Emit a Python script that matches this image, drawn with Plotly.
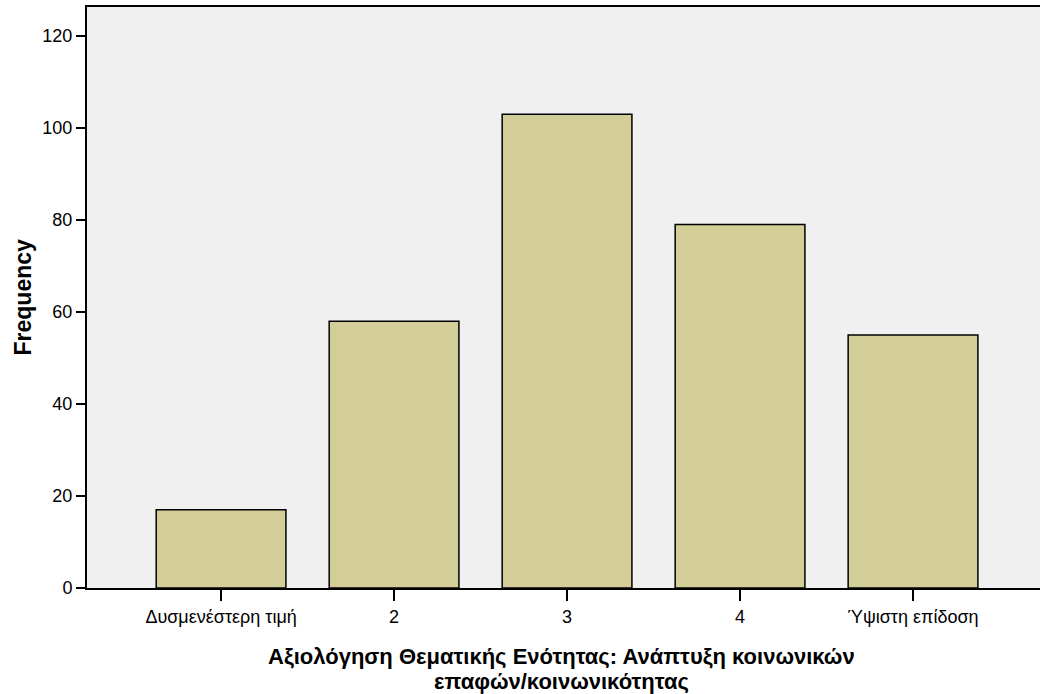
import plotly.graph_objects as go

categories = ["Δυσμενέστερη τιμή", "2", "3", "4", "Ύψιστη επίδοση"]
frequencies = [17, 58, 103, 79, 55]
y_ticks = [0, 20, 40, 60, 80, 100, 120]
x_title_lines = ["Αξιολόγηση Θεματικής Ενότητας: Ανάπτυξη κοινωνικών", "επαφών/κοινωνικότητας"]
y_title = "Frequency"

fig = go.Figure()
fig.add_trace(go.Bar(
    x=categories, y=frequencies,
    marker=dict(color="#D3CE97", line=dict(color="black", width=1.5)),
    width=0.75,
))

for i, line in enumerate(x_title_lines):
    fig.add_annotation(
        text=f"<b>{line}</b>", xref="paper", yref="paper", x=0.5, y=0,
        xanchor="center", yanchor="middle", yshift=-68 - 25 * i, xshift=-2,
        showarrow=False, font=dict(size=22, color="black"),
    )
fig.add_annotation(
    text=f"<b>{y_title}</b>", xref="paper", yref="paper", x=0, y=0.5,
    xanchor="center", yanchor="middle", xshift=-65, textangle=-90,
    showarrow=False, font=dict(size=23, color="black"),
)

fig.update_layout(
    width=1040, height=694,
    margin=dict(l=87, r=0, t=7, b=106),
    paper_bgcolor="white", plot_bgcolor="#F0F0F0",
    font=dict(family="Liberation Sans, Arial, sans-serif", color="black"),
    showlegend=False,
    xaxis=dict(
        type="category", range=[-0.775, 4.734],
        showline=True, linecolor="black", linewidth=2, mirror=True,
        ticks="outside", ticklen=11, tickwidth=2, tickcolor="black",
        tickfont=dict(size=18), showgrid=False, zeroline=False,
        automargin=False,
    ),
    yaxis=dict(
        range=[0, 126.3], tickvals=y_ticks,
        showline=True, linecolor="black", linewidth=2, mirror=False,
        ticks="outside", ticklen=9, tickwidth=2, tickcolor="black",
        tickfont=dict(size=18), showgrid=False, zeroline=False,
        automargin=False,
    ),
)

fig.write_html(
    "out.html",
    config={"displayModeBar": False},
    post_script="document.body.style.margin='0';document.body.style.overflow='hidden';",
)
